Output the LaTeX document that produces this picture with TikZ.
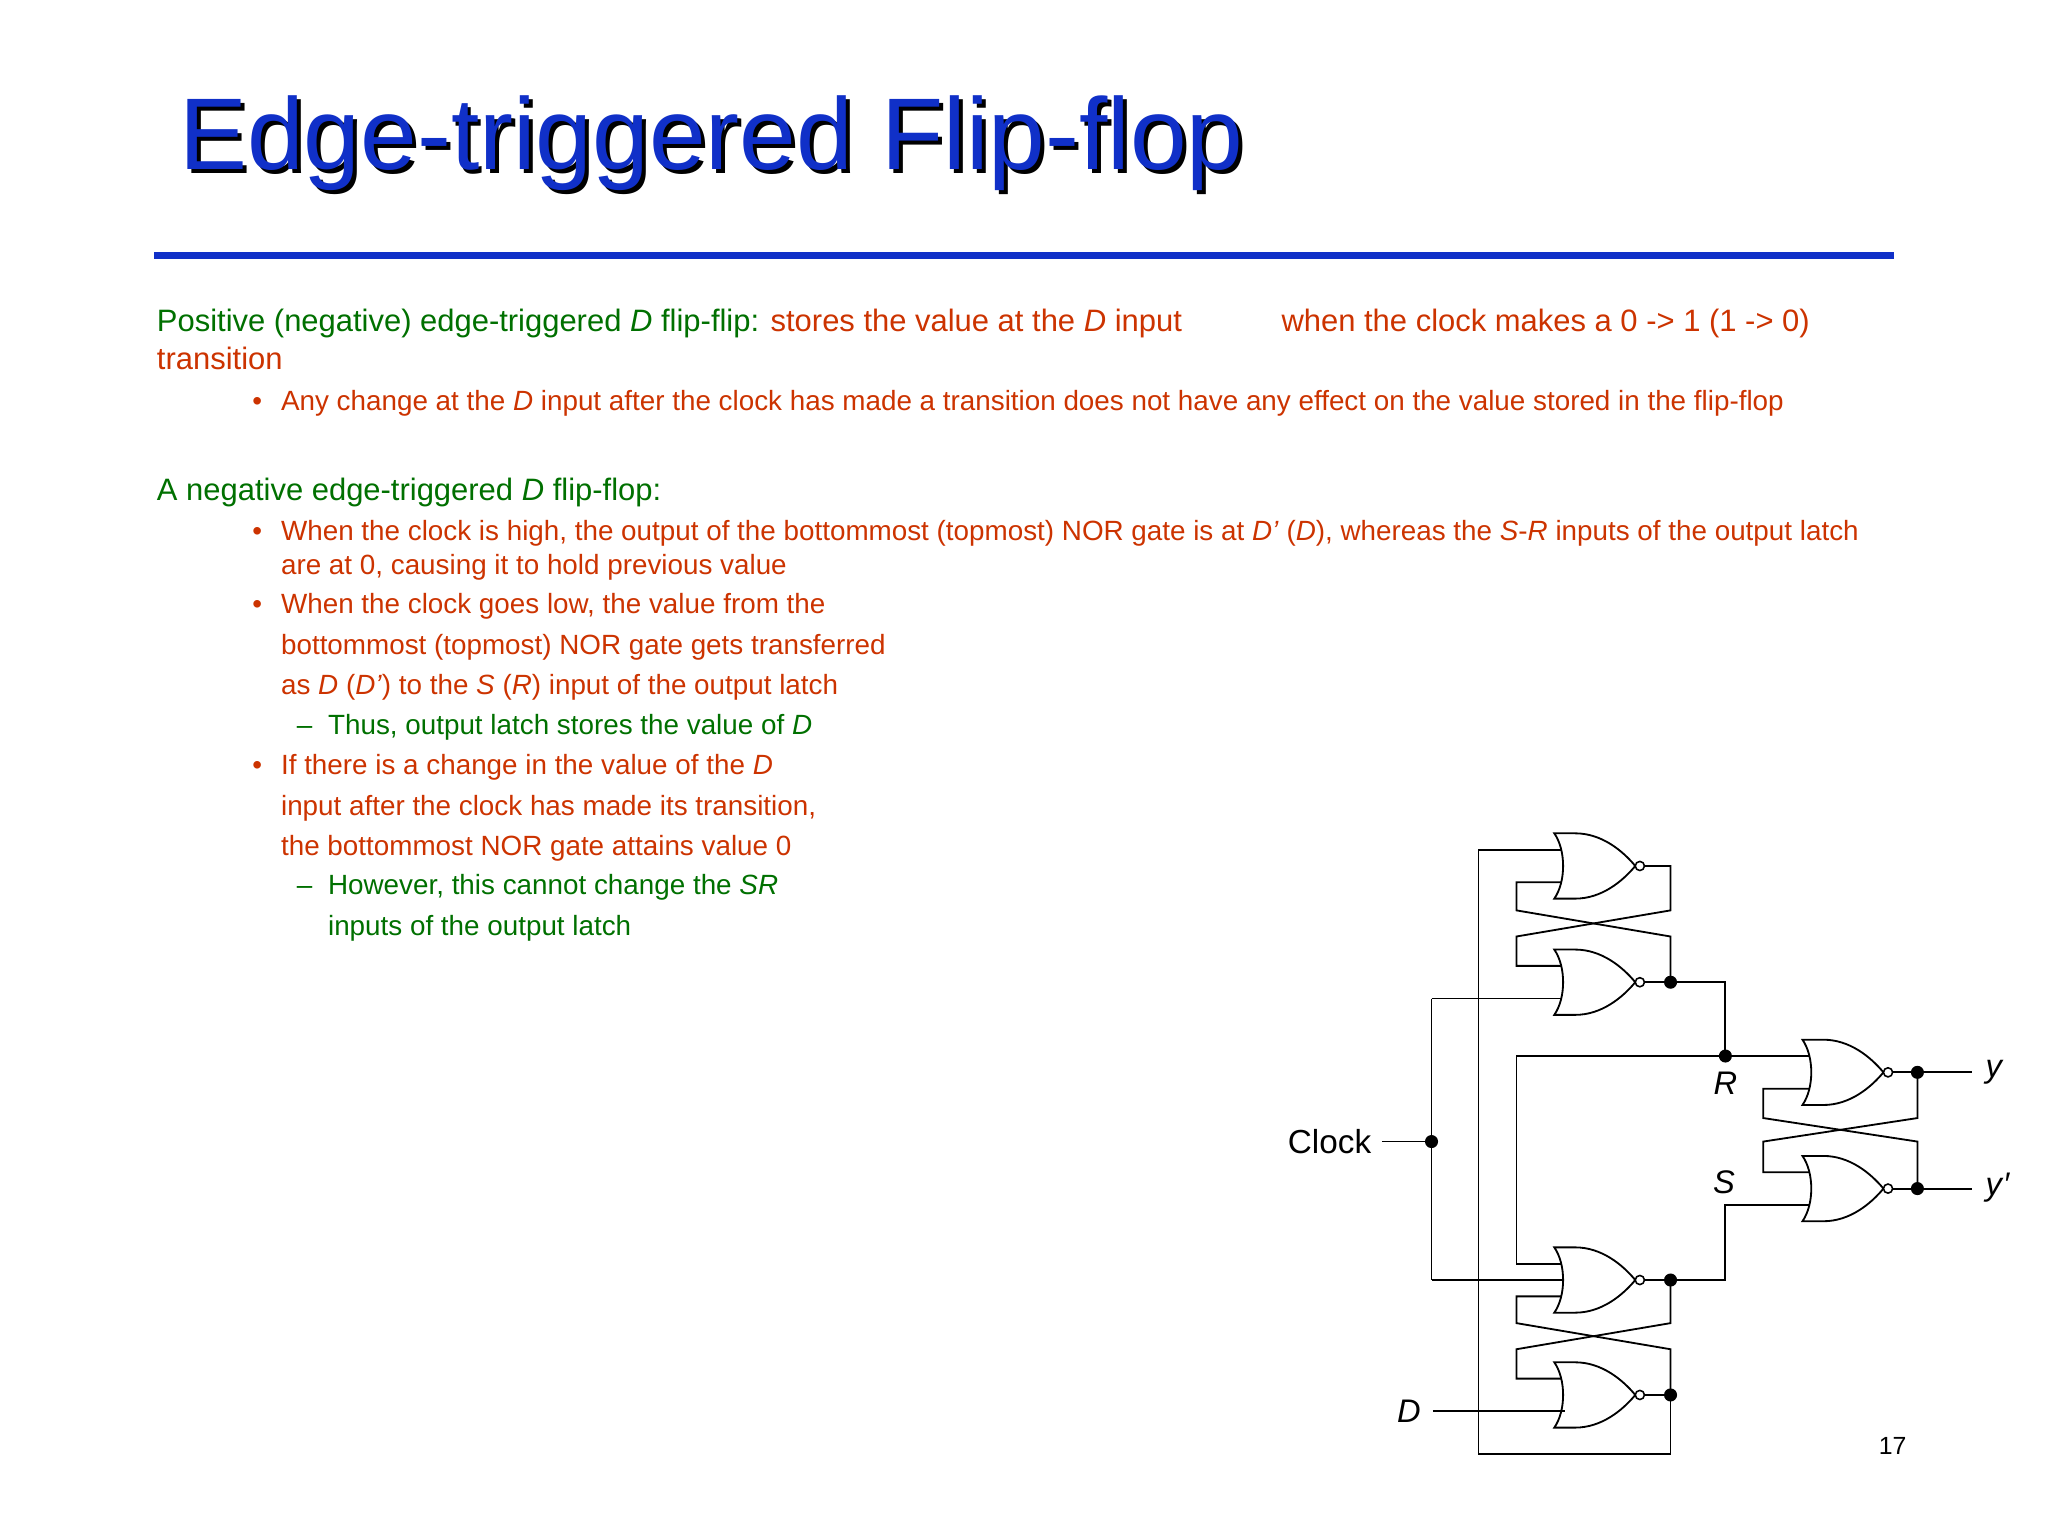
\documentclass[tikz,border=0pt]{standalone}
\usepackage{fontspec}
\setmainfont{Liberation Sans}
\definecolor{tgreen}{RGB}{0,112,0}
\definecolor{tred}{RGB}{204,51,0}
\definecolor{tblue}{RGB}{16,48,200}
\begin{document}
\begin{tikzpicture}[x=1pt,y=-1pt,
  wire/.style={line width=1.4pt},
  dotc/.style={circle,fill=black,inner sep=0pt,minimum size=10pt},
  main/.style={anchor=base west,inner sep=0pt,font=\fontsize{23.7}{28}\selectfont},
  sub/.style={anchor=base west,inner sep=0pt,font=\fontsize{21.3}{25}\selectfont},
  lbl/.style={inner sep=0pt,font=\fontsize{25}{28}\selectfont\itshape},
  nor/.pic={\draw[line width=1.4pt,fill=white] (0,-25) -- (16,-25) .. controls (36,-25) and (52,-12) .. (62,0) .. controls (52,12) and (36,25) .. (16,25) -- (0,25) .. controls (9,12) and (9,-12) .. cycle;
    \draw[line width=1.2pt,fill=white] (65.5,0) circle (3.5);}]
\useasboundingbox (0,0) rectangle (1568,1176);
% title
\node[anchor=base west,inner sep=0pt,font=\fontsize{78}{84}\selectfont,text=black] at (140,133) {Edge-triggered Flip-flop};
\node[anchor=base west,inner sep=0pt,font=\fontsize{78}{84}\selectfont,text=tblue] (title) at (137,130) {Edge-triggered Flip-flop};
\fill[tblue] (118,193) rectangle (1450,198);
% text
\node[main,text=tgreen] (t1) at (120,254) {Positive (negative) edge-triggered \textit{D} flip-flip: \textcolor{tred}{stores the value at the \textit{D} input}};
\node[main,text=tred] (t1b) at (981,254) {when the clock makes a 0 -> 1 (1 -> 0)};
\node[main,text=tred] (t2) at (120,283) {transition};
\node[sub,text=tred] (b0) at (193,314) {•};
\node[sub,text=tred] (t3) at (215,314) {Any change at the \textit{D} input after the clock has made a transition does not have any effect on the value stored in the flip-flop};
\node[main,text=tgreen] (t4) at (120,383) {A negative edge-triggered \textit{D} flip-flop:};
\node[sub,text=tred] (b1) at (193,414) {•};
\node[sub,text=tred] (t5) at (215,414) {When the clock is high, the output of the bottommost (topmost) NOR gate is at \textit{D’} (\textit{D}), whereas the \textit{S}-\textit{R} inputs of the output latch};
\node[sub,text=tred] (t6) at (215,440) {are at 0, causing it to hold previous value};
\node[sub,text=tred] (b2) at (193,470) {•};
\node[sub,text=tred] (t7) at (215,470) {When the clock goes low, the value from the};
\node[sub,text=tred] (t8) at (215,501) {bottommost (topmost) NOR gate gets transferred};
\node[sub,text=tred] (t9) at (215,532) {as \textit{D} (\textit{D’}) to the \textit{S} (\textit{R}) input of the output latch};
\node[sub,text=tgreen] (d1) at (227,562) {–};
\node[sub,text=tgreen] (t10) at (251,562) {Thus, output latch stores the value of \textit{D}};
\node[sub,text=tred] (b3) at (193,593) {•};
\node[sub,text=tred] (t11) at (215,593) {If there is a change in the value of the \textit{D}};
\node[sub,text=tred] (t12) at (215,624) {input after the clock has made its transition,};
\node[sub,text=tred] (t13) at (215,655) {the bottommost NOR gate attains value 0};
\node[sub,text=tgreen] (d2) at (227,685) {–};
\node[sub,text=tgreen] (t14) at (251,685) {However, this cannot change the \textit{SR}};
\node[sub,text=tgreen] (t15) at (251,716) {inputs of the output latch};
\node[inner sep=0pt,font=\fontsize{19}{22}\selectfont] (pg) at (1449,1107) {17};
% wires
\coordinate (g1) at (1190,663); \coordinate (g2) at (1190,752);
\coordinate (g3) at (1190,980); \coordinate (g4) at (1190,1068);
\coordinate (g5) at (1380,821); \coordinate (g6) at (1380,910);
\draw[wire] (1198,650.5) -- (1132,650.5) -- (1132,1113) -- (1279,1113) -- (1279,1068);
\draw[wire] (1259,663) -- (1279,663) -- (1279,697) -- (1161,717) -- (1161,739.5) -- (1198,739.5);
\draw[wire] (1279,752) -- (1279,717) -- (1161,697) -- (1161,675.5) -- (1198,675.5);
\draw[wire] (1259,752) -- (1321,752) -- (1321,808.5);
\draw[wire] (1388,808.5) -- (1161,808.5) -- (1161,967.5) -- (1198,967.5);
\draw[wire] (1096,764.5) -- (1096,980);
\draw[wire] (1096,764.5) -- (1198,764.5);
\draw[wire] (1096,980) -- (1198,980);
\draw[wire] (1259,980) -- (1321,980) -- (1321,922.5) -- (1388,922.5);
\draw[wire] (1279,980) -- (1279,1013) -- (1161,1033) -- (1161,1055.5) -- (1198,1055.5);
\draw[wire] (1279,1068) -- (1279,1033) -- (1161,1013) -- (1161,992.5) -- (1198,992.5);
\draw[wire] (1259,1068) -- (1279,1068);
\draw[wire] (1449,821) -- (1510,821);
\draw[wire] (1449,910) -- (1510,910);
\draw[wire] (1468,821) -- (1468,856) -- (1350,874) -- (1350,897.5) -- (1388,897.5);
\draw[wire] (1468,910) -- (1468,874) -- (1350,856) -- (1350,833.5) -- (1388,833.5);
% gates
\pic at (g1) {nor}; \pic at (g2) {nor}; \pic at (g3) {nor}; \pic at (g4) {nor};
\pic at (g5) {nor}; \pic at (g6) {nor};
% dots
\node[dotc] (n1) at (1279,752) {}; \node[dotc] (n2) at (1321,808.5) {};
\node[dotc] (n3) at (1096,874) {}; \node[dotc] (n4) at (1279,980) {};
\node[dotc] (n5) at (1279,1068) {}; \node[dotc] (n6) at (1468,821) {};
\node[dotc] (n7) at (1468,910) {};
% labels
\node[inner sep=0pt,font=\fontsize{25.5}{28}\selectfont,anchor=east] (clk) at (1050,874) {Clock};
\draw[wire] (1058,874) -- (n3);
\node[lbl,anchor=east] (dl) at (1088,1080.5) {D};
\draw[wire] (1097,1080.5) -- (1198,1080.5);
\node[lbl] (rl) at (1321,829) {R};
\node[lbl] (sl) at (1320,905) {S};
\node[lbl,anchor=west] (yl) at (1520,821) {y};
\node[lbl,anchor=west] (ypl) at (1520,909) {y\kern1pt\textit{′}};
\end{tikzpicture}
\end{document}
